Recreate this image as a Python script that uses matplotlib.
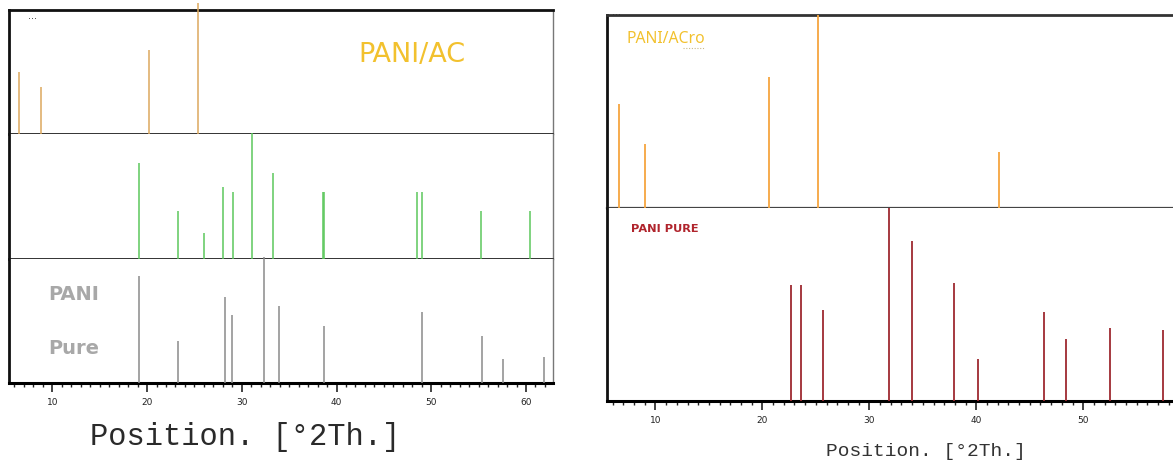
import matplotlib
matplotlib.use("Agg")
import matplotlib.pyplot as plt
from matplotlib.lines import Line2D
from matplotlib.ticker import MultipleLocator

# ---- peak data (position in deg 2-theta, relative intensity in %) ----
left_ac_pos = [6.5, 8.8, 20.2, 25.4]
left_ac_int = [50, 38, 68, 106]

left_green_pos = [19.2, 23.3, 26.0, 28.0, 29.1, 31.1, 33.3, 38.62, 38.72, 48.5, 49.0, 55.2, 60.4]
left_green_int = [77, 38, 21, 58, 54, 101, 69, 54, 54, 54, 54, 38, 38]

left_pure_pos = [19.1, 23.3, 28.2, 29.0, 32.3, 33.9, 38.7, 49.0, 55.4, 57.6, 61.9]
left_pure_int = [86, 34, 69, 55, 101, 62, 46, 57, 38, 19, 21]

right_ac_pos = [6.6, 9.0, 20.6, 25.2, 42.1]
right_ac_int = [54, 33, 68, 100, 29]

right_pure_pos = [22.7, 23.6, 25.7, 31.8, 34.0, 37.9, 40.2, 46.3, 48.4, 52.5, 57.5]
right_pure_int = [60, 60, 47, 100, 83, 61, 22, 46, 32, 38, 37]

x_label = "Position. [°2Th.]"

W, H = 1173, 463
fig = plt.figure(figsize=(W / 100, H / 100), dpi=100)
fig.patch.set_facecolor("white")


def fx(px):
    return px / W


def fy(py):
    return 1 - py / H


def stick_panel(ax, pos, inten, color, lw=1.0):
    ax.vlines(pos, 0, inten, colors=color, linewidth=lw, clip_on=False, zorder=3)
    ax.set_ylim(0, 100)
    ax.set_yticks([])
    ax.set_facecolor("white")


def style_bottom_axis(ax, labelsize):
    ax.xaxis.set_major_locator(MultipleLocator(10))
    ax.xaxis.set_minor_locator(MultipleLocator(1))
    ax.tick_params(axis="x", which="major", direction="out", length=6.5, width=1.2,
                   labelsize=labelsize, pad=4, colors="#222222")
    ax.tick_params(axis="x", which="minor", direction="out", length=3, width=1.0,
                   colors="#222222")


# ---------------- left figure: three stacked panels ----------------
lx0, lx1 = 9, 553
ly_top, ly_bot = 10, 383
lh = (ly_bot - ly_top) / 3
left_xlim = (5.43, 62.85)

left_axes = []
for i in range(3):
    top = ly_top + i * lh
    ax = fig.add_axes([fx(lx0), fy(top + lh), fx(lx1 - lx0), lh / H])
    ax.set_xlim(*left_xlim)
    left_axes.append(ax)

a_top, a_mid, a_bot = left_axes
stick_panel(a_top, left_ac_pos, left_ac_int, "#DCA85E", 1.1)
stick_panel(a_mid, left_green_pos, left_green_int, "#5DC85D", 1.1)
stick_panel(a_bot, left_pure_pos, left_pure_int, "#8A8A8A", 1.1)

for ax in left_axes:
    ax.spines["left"].set_color("#111111")
    ax.spines["left"].set_linewidth(2.0)
    ax.spines["right"].set_color("#777777")
    ax.spines["right"].set_linewidth(1.0)
    ax.spines["top"].set_visible(False)
    ax.spines["bottom"].set_color("#333333")
    ax.spines["bottom"].set_linewidth(1.4)
    ax.set_xticks([])

a_top.spines["top"].set_visible(True)
a_top.spines["top"].set_color("#111111")
a_top.spines["top"].set_linewidth(2.0)
a_bot.spines["bottom"].set_color("#000000")
a_bot.spines["bottom"].set_linewidth(2.2)
style_bottom_axis(a_bot, 6.5)

a_top.text(0.035, 0.99, "...", transform=a_top.transAxes, fontsize=7,
           color="#333333", va="top", ha="left")
fig.text(fx(412), fy(55), "PANI/AC", fontsize=19.5,
         color="#F2C12E", ha="center", va="center", family="DejaVu Sans")
fig.text(fx(74), fy(295), "PANI", fontsize=14,
         color="#A8A8A8", weight="bold", ha="center", va="center")
fig.text(fx(74), fy(349), "Pure", fontsize=14,
         color="#A8A8A8", weight="bold", ha="center", va="center")

fig.text(fx(245), fy(437), x_label, fontsize=22, family="Liberation Mono",
         color="#2a2a2a", ha="center", va="center")

# ---------------- right figure: two stacked panels ----------------
rx0, rx1 = 607, 1173
ry_top, ry_bot = 15, 401
rh = (ry_bot - ry_top) / 2
right_xlim = (5.47, 58.39)

r_top = fig.add_axes([fx(rx0), fy(ry_top + rh), fx(rx1 - rx0), rh / H])
r_bot = fig.add_axes([fx(rx0), fy(ry_bot), fx(rx1 - rx0), rh / H])
for ax in (r_top, r_bot):
    ax.set_xlim(*right_xlim)
    ax.spines["left"].set_color("#111111")
    ax.spines["left"].set_linewidth(2.0)
    ax.spines["right"].set_visible(False)
    ax.spines["top"].set_visible(False)
    ax.spines["bottom"].set_color("#444444")
    ax.spines["bottom"].set_linewidth(1.6)
    ax.set_xticks([])

stick_panel(r_top, right_ac_pos, right_ac_int, "#F6A53F", 1.3)
stick_panel(r_bot, right_pure_pos, right_pure_int, "#9E2A30", 1.3)
r_top.spines["top"].set_visible(True)
r_top.spines["top"].set_color("#333333")
r_top.spines["top"].set_linewidth(2.0)
r_bot.spines["bottom"].set_color("#000000")
r_bot.spines["bottom"].set_linewidth(2.2)
style_bottom_axis(r_bot, 6.5)

fig.text(fx(612), fy(12), "...", fontsize=7, color="#333333",
         va="center", ha="left")
fig.text(fx(626), fy(39), "PANI/ACro", fontsize=11.3, color="#F2C12E",
         ha="left", va="center", family="Noto Sans")
# spell-check style dotted underline below the last letters
fig.add_artist(Line2D([fx(683), fx(704)], [fy(48), fy(48)], transform=fig.transFigure,
                      color="#C9B98A", linewidth=0.8, linestyle=(0, (1, 1.5))))
fig.text(fx(631), fy(229), "PANI PURE", fontsize=8.2, color="#B0242C",
         weight="bold", ha="left", va="center", family="DejaVu Sans")

fig.text(fx(926), fy(452), x_label, fontsize=14, family="Liberation Mono",
         color="#333333", ha="center", va="center")

fig.savefig("out.png", dpi=100, facecolor="white")
